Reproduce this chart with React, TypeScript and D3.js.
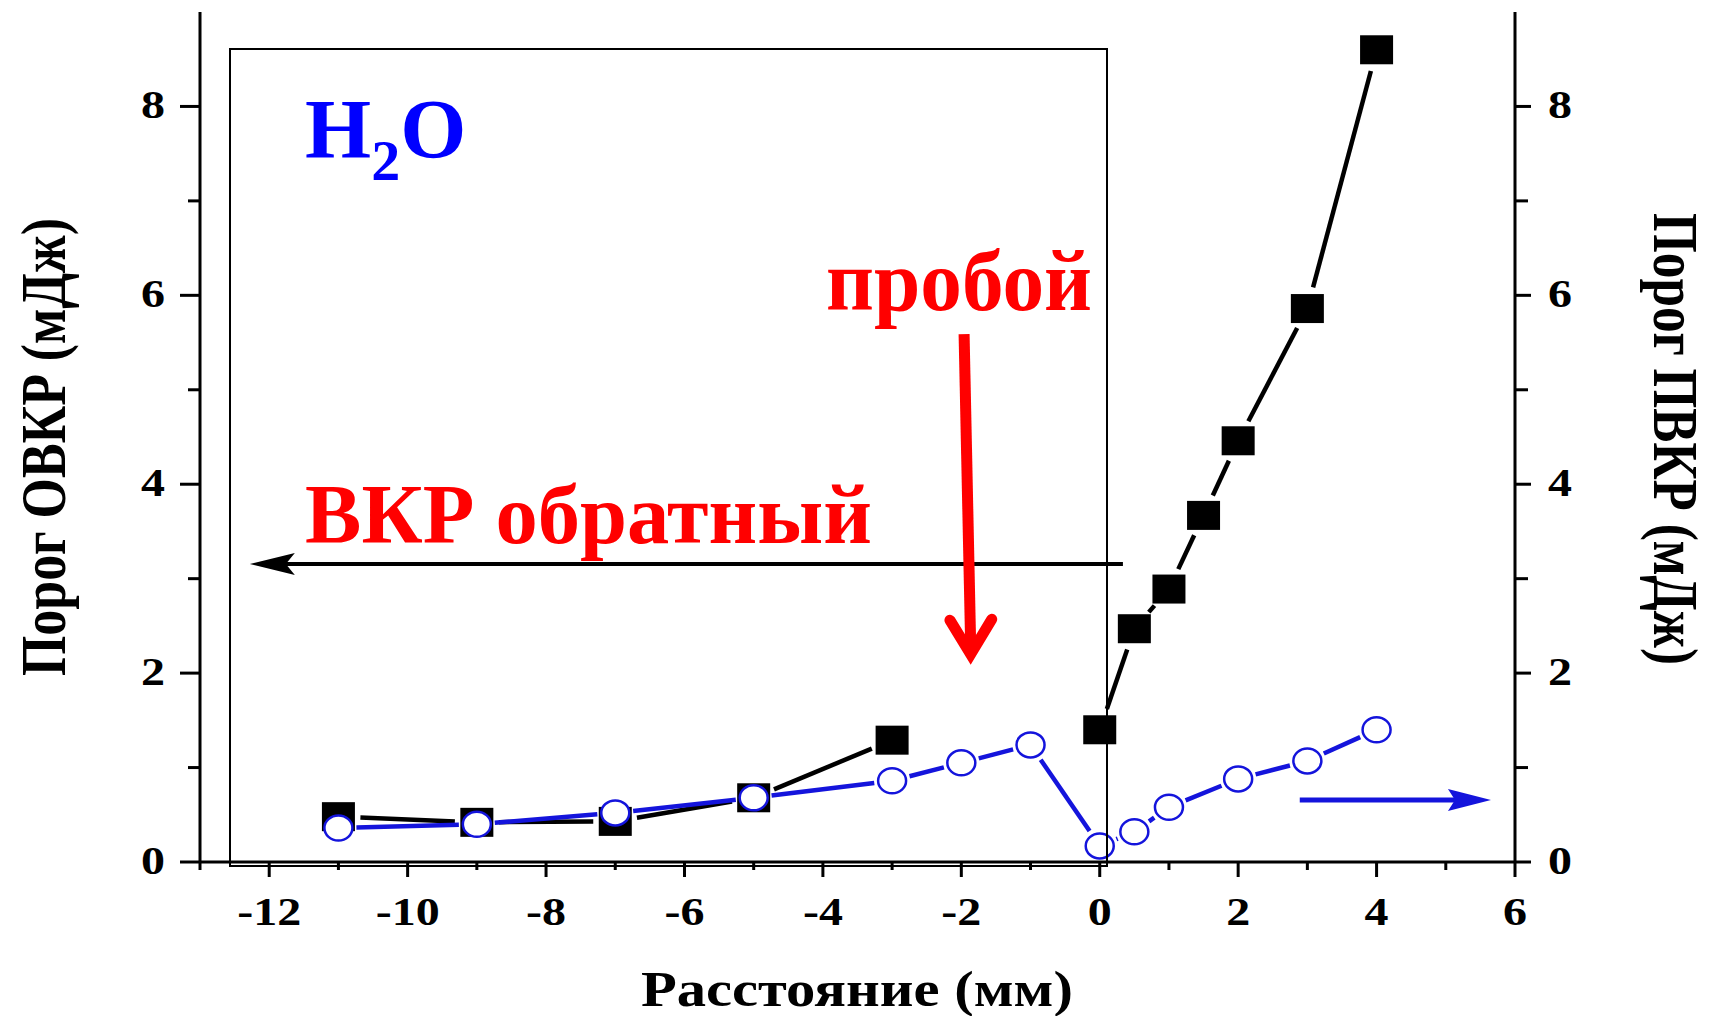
import React, { useRef, useEffect } from "react";
import { select, scaleLinear } from "d3";

// black squares: ОВКР (left branch) and ПВКР (right branch) thresholds
const squareX = [-11, -9, -7, -5, -3, 0, 0.5, 1, 1.5, 2, 3, 4];
const squareY = [0.48, 0.42, 0.43, 0.68, 1.29, 1.4, 2.47, 2.89, 3.67, 4.46, 5.86, 8.6];
const squareBranch = [0, 0, 0, 0, 0, 1, 1, 1, 1, 1, 1, 1];

// open blue circles: breakdown threshold
const circleX = [-11, -9, -7, -5, -3, -2, -1, 0, 0.5, 1, 2, 3, 4];
const circleY = [0.36, 0.4, 0.52, 0.68, 0.86, 1.05, 1.24, 0.17, 0.32, 0.58, 0.88, 1.07, 1.4];

const xMajor = [-12, -10, -8, -6, -4, -2, 0, 2, 4, 6];
const xMinor = [-13, -11, -9, -7, -5, -3, -1, 1, 3, 5];
const yMajor = [0, 2, 4, 6, 8];
const yMinor = [1, 3, 5, 7];

const FONT = "'Liberation Serif', 'Times New Roman', serif";
const BLUE = "#1414dc";

// line pieces between markers, with a small gap at each marker (Origin style)
function gapSegments(px: number[], py: number[], gap: number) {
  const segs: number[][] = [];
  for (let i = 0; i < px.length - 1; i++) {
    const dx = px[i + 1] - px[i];
    const dy = py[i + 1] - py[i];
    const d = Math.hypot(dx, dy);
    if (d <= 2 * gap) continue;
    const ux = dx / d, uy = dy / d;
    segs.push([px[i] + ux * gap, py[i] + uy * gap, px[i + 1] - ux * gap, py[i + 1] - uy * gap]);
  }
  return segs;
}

export default function App() {
  const svgRef = useRef<SVGSVGElement>(null);

  useEffect(() => {
    const svg = select(svgRef.current);
    svg.selectAll("*").remove();

    const x = scaleLinear().domain([-13, 6]).range([200, 1515]);
    const y = scaleLinear().domain([0, 9]).range([862, 12]);

    // black lines, broken between the two branches
    [0, 1].forEach(b => {
      const idx = squareX.map((_, i) => i).filter(i => squareBranch[i] === b);
      const segs = gapSegments(idx.map(i => x(squareX[i])), idx.map(i => y(squareY[i])), 22);
      svg.append("g").selectAll("line").data(segs).join("line")
        .attr("x1", d => d[0]).attr("y1", d => d[1])
        .attr("x2", d => d[2]).attr("y2", d => d[3])
        .attr("stroke", "#000").attr("stroke-width", 4.5);
    });

    svg.append("g").selectAll("rect").data(squareX).join("rect")
      .attr("x", (d) => x(d) - 16.5)
      .attr("y", (d, i) => y(squareY[i]) - 14.5)
      .attr("width", 33).attr("height", 29)
      .attr("fill", "#000");

    const blueSegs = gapSegments(circleX.map(d => x(d)), circleY.map(d => y(d)), 18);
    svg.append("g").selectAll("line").data(blueSegs).join("line")
      .attr("x1", d => d[0]).attr("y1", d => d[1])
      .attr("x2", d => d[2]).attr("y2", d => d[3])
      .attr("stroke", BLUE).attr("stroke-width", 4.5);

    svg.append("g").selectAll("ellipse").data(circleX).join("ellipse")
      .attr("cx", d => x(d))
      .attr("cy", (d, i) => y(circleY[i]))
      .attr("rx", 14).attr("ry", 12.5)
      .attr("fill", "#fff").attr("stroke", BLUE).attr("stroke-width", 2.5);

    // inner frame
    svg.append("rect")
      .attr("x", 230).attr("y", 49).attr("width", 877).attr("height", 817)
      .attr("fill", "none").attr("stroke", "#000").attr("stroke-width", 2);

    // axes
    const ax = svg.append("g").attr("stroke", "#000").attr("stroke-width", 3);
    ax.append("line").attr("x1", x(-13)).attr("x2", x(6)).attr("y1", y(0)).attr("y2", y(0));
    ax.append("line").attr("x1", x(-13)).attr("x2", x(-13)).attr("y1", y(0)).attr("y2", y(9));
    ax.append("line").attr("x1", x(6)).attr("x2", x(6)).attr("y1", y(0)).attr("y2", y(9));

    ax.selectAll(".xmaj").data(xMajor).join("line").attr("class", "xmaj")
      .attr("x1", d => x(d)).attr("x2", d => x(d)).attr("y1", y(0)).attr("y2", y(0) + 15);
    ax.selectAll(".xmin").data(xMinor).join("line").attr("class", "xmin")
      .attr("x1", d => x(d)).attr("x2", d => x(d)).attr("y1", y(0)).attr("y2", y(0) + 8);
    ax.selectAll(".ylmaj").data(yMajor).join("line").attr("class", "ylmaj")
      .attr("x1", x(-13) - 20).attr("x2", x(-13)).attr("y1", d => y(d)).attr("y2", d => y(d));
    ax.selectAll(".ylmin").data(yMinor).join("line").attr("class", "ylmin")
      .attr("x1", x(-13) - 12).attr("x2", x(-13)).attr("y1", d => y(d)).attr("y2", d => y(d));
    ax.selectAll(".yrmaj").data(yMajor).join("line").attr("class", "yrmaj")
      .attr("x1", x(6)).attr("x2", x(6) + 16).attr("y1", d => y(d)).attr("y2", d => y(d));
    ax.selectAll(".yrmin").data(yMinor).join("line").attr("class", "yrmin")
      .attr("x1", x(6)).attr("x2", x(6) + 13).attr("y1", d => y(d)).attr("y2", d => y(d));

    const lab = svg.append("g").attr("font-family", FONT).attr("font-weight", "bold")
      .attr("font-size", 40).attr("fill", "#000");
    lab.selectAll(".xl").data(xMajor).join("text").attr("class", "xl")
      .attr("transform", d => `translate(${x(d)},925) scale(1.2,1)`)
      .attr("text-anchor", "middle").text(d => String(d));
    lab.selectAll(".yl").data(yMajor).join("text").attr("class", "yl")
      .attr("transform", d => `translate(165,${y(d) + 12}) scale(1.2,1)`)
      .attr("text-anchor", "end").text(d => String(d));
    lab.selectAll(".yr").data(yMajor).join("text").attr("class", "yr")
      .attr("transform", d => `translate(1548,${y(d) + 12}) scale(1.2,1)`)
      .attr("text-anchor", "start").text(d => String(d));

    // axis titles
    const t = svg.append("g").attr("font-family", FONT).attr("font-weight", "bold").attr("fill", "#000");
    t.append("text").attr("x", 857).attr("y", 1006).attr("font-size", 50)
      .attr("text-anchor", "middle").attr("textLength", 432).attr("lengthAdjust", "spacingAndGlyphs")
      .text("Расстояние (мм)");
    t.append("text").attr("transform", "translate(65,447) rotate(-90) scale(1,1.2)")
      .attr("font-size", 52).attr("text-anchor", "middle")
      .attr("textLength", 458).attr("lengthAdjust", "spacingAndGlyphs")
      .text("Порог ОВКР (мДж)");
    t.append("text").attr("transform", "translate(1654,439) rotate(90) scale(1,1.2)")
      .attr("font-size", 52).attr("text-anchor", "middle")
      .attr("textLength", 452).attr("lengthAdjust", "spacingAndGlyphs")
      .text("Порог ПВКР (мДж)");

    // annotations
    const h2o = svg.append("text").attr("x", 305).attr("y", 158)
      .attr("font-family", FONT).attr("font-weight", "bold").attr("fill", "#0000ff").attr("font-size", 85);
    h2o.append("tspan").text("H");
    h2o.append("tspan").attr("font-size", 58).attr("dy", 22).text("2");
    h2o.append("tspan").attr("dy", -22).text("O");

    svg.append("text").attr("x", 826).attr("y", 310)
      .attr("font-family", FONT).attr("font-weight", "bold").attr("fill", "#ff0000").attr("font-size", 86)
      .attr("textLength", 266).attr("lengthAdjust", "spacingAndGlyphs").text("пробой");
    svg.append("text").attr("x", 305).attr("y", 543)
      .attr("font-family", FONT).attr("font-weight", "bold").attr("fill", "#ff0000").attr("font-size", 84)
      .attr("textLength", 567).attr("lengthAdjust", "spacingAndGlyphs").text("ВКР обратный");

    // black arrow to the left axis
    const ay = y(3.155);
    const tipL = x(-12.28);
    svg.append("line").attr("x1", tipL + 35).attr("x2", x(0.335)).attr("y1", ay).attr("y2", ay)
      .attr("stroke", "#000").attr("stroke-width", 4);
    svg.append("path")
      .attr("d", `M${tipL},${ay} L${tipL + 45},${ay - 11} L${tipL + 36},${ay} L${tipL + 45},${ay + 11} Z`)
      .attr("fill", "#000");

    // red arrow pointing at breakdown
    svg.append("line").attr("x1", x(-1.96)).attr("y1", y(5.59)).attr("x2", x(-1.865)).attr("y2", y(2.3))
      .attr("stroke", "#ff0000").attr("stroke-width", 11);
    svg.append("path")
      .attr("d", `M${x(-2.165)},${y(2.56)} L${x(-1.865)},${y(2.2)} L${x(-1.56)},${y(2.57)}`)
      .attr("fill", "none").attr("stroke", "#ff0000").attr("stroke-width", 11)
      .attr("stroke-linecap", "round").attr("stroke-linejoin", "miter");

    // blue arrow to the right axis
    const by = y(0.656);
    const tipR = x(5.653);
    svg.append("line").attr("x1", x(2.89)).attr("x2", tipR - 36).attr("y1", by).attr("y2", by)
      .attr("stroke", BLUE).attr("stroke-width", 5);
    svg.append("path")
      .attr("d", `M${tipR},${by} L${tipR - 43},${by - 11} L${tipR - 36},${by} L${tipR - 43},${by + 11} Z`)
      .attr("fill", BLUE);
  }, []);

  return (
    <svg ref={svgRef} width={1710} height={1016}
      style={{ position: "absolute", left: 0, top: 0, background: "#fff" }} />
  );
}
